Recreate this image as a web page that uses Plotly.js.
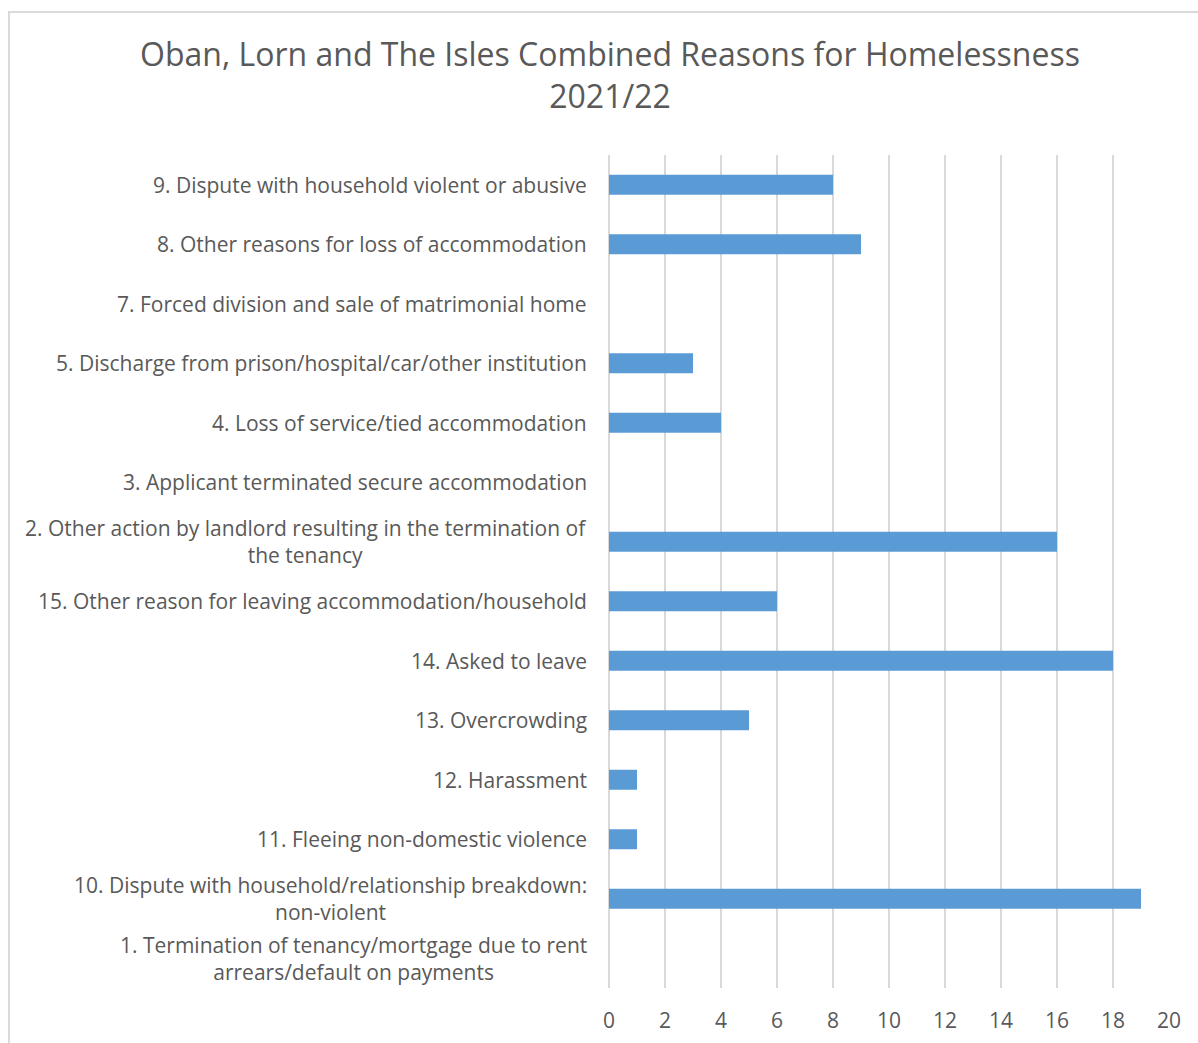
<!DOCTYPE html>
<html>
<head>
<meta charset="utf-8">
<script src="https://cdn.plot.ly/plotly-3.0.1.min.js"></script>
<style>
  html, body { margin: 0; padding: 0; background: #fff; }
  #frame { position: absolute; left: 8px; top: 11px; width: 1300px; height: 1100px;
           border-left: 2px solid #D9D9D9; border-top: 2px solid #D9D9D9; pointer-events: none; }
  #chart { position: absolute; left: 0; top: 0; width: 1198px; height: 1043px; }
</style>
</head>
<body>
<div id="chart"></div>
<div id="frame"></div>
<script>
// Categories listed bottom to top
const categories = [
  "1. Termination of tenancy/mortgage due to rent<br>arrears/default on payments",
  "10. Dispute with household/relationship breakdown:<br>non-violent",
  "11. Fleeing non-domestic violence",
  "12. Harassment",
  "13. Overcrowding",
  "14. Asked to leave",
  "15. Other reason for leaving accommodation/household",
  "2. Other action by landlord resulting in the termination of<br>the tenancy",
  "3. Applicant terminated secure accommodation",
  "4. Loss of service/tied accommodation",
  "5. Discharge from prison/hospital/car/other institution",
  "7. Forced division and sale of matrimonial home",
  "8. Other reasons for loss of accommodation",
  "9. Dispute with household violent or abusive"
];
const values = [0, 19, 1, 1, 5, 18, 6, 16, 0, 4, 3, 0, 9, 8];
const xTicks = [0, 2, 4, 6, 8, 10, 12, 14, 16, 18, 20];
const titleText = "Oban, Lorn and The Isles Combined Reasons for Homelessness<br>2021/22";

const textColor = "#595959";
const fontFam = "'Open Sans', 'DejaVu Sans', sans-serif";

const trace = {
  type: "bar",
  orientation: "h",
  x: values,
  y: categories,
  marker: { color: "#5B9BD5" },
  hoverinfo: "x+y"
};

const annotations = categories.map(c => ({
  xref: "paper", yref: "y",
  x: 0, y: c,
  xanchor: "right", yanchor: "middle",
  xshift: -20,
  align: "center",
  showarrow: false,
  text: c,
  font: { family: fontFam, size: 21, color: textColor }
}));

const layout = {
  width: 1198,
  height: 1043,
  margin: { l: 609, r: 29, t: 155, b: 55, pad: 0 },
  paper_bgcolor: "rgba(0,0,0,0)",
  plot_bgcolor: "rgba(0,0,0,0)",
  showlegend: false,
  bargap: 0.664,
  title: {
    text: titleText,
    font: { family: fontFam, size: 32, color: textColor },
    xref: "container", yref: "container",
    x: 610 / 1198, xanchor: "center",
    y: 1 - 66 / 1043, yanchor: "top"
  },
  xaxis: {
    range: [0, 20],
    tickvals: xTicks,
    ticktext: xTicks.map(String),
    showgrid: true,
    gridcolor: "#D9D9D9",
    gridwidth: 2,
    zeroline: true,
    zerolinecolor: "#D9D9D9",
    zerolinewidth: 2,
    showline: false,
    ticks: "",
    ticklabelstandoff: 18,
    tickfont: { family: fontFam, size: 21, color: textColor },
    fixedrange: true
  },
  yaxis: {
    type: "category",
    categoryorder: "array",
    categoryarray: categories,
    showticklabels: false,
    showgrid: false,
    zeroline: false,
    showline: false,
    ticks: "",
    fixedrange: true
  },
  annotations: annotations
};

Plotly.newPlot("chart", [trace], layout, { displayModeBar: false, staticPlot: false });
</script>
</body>
</html>
